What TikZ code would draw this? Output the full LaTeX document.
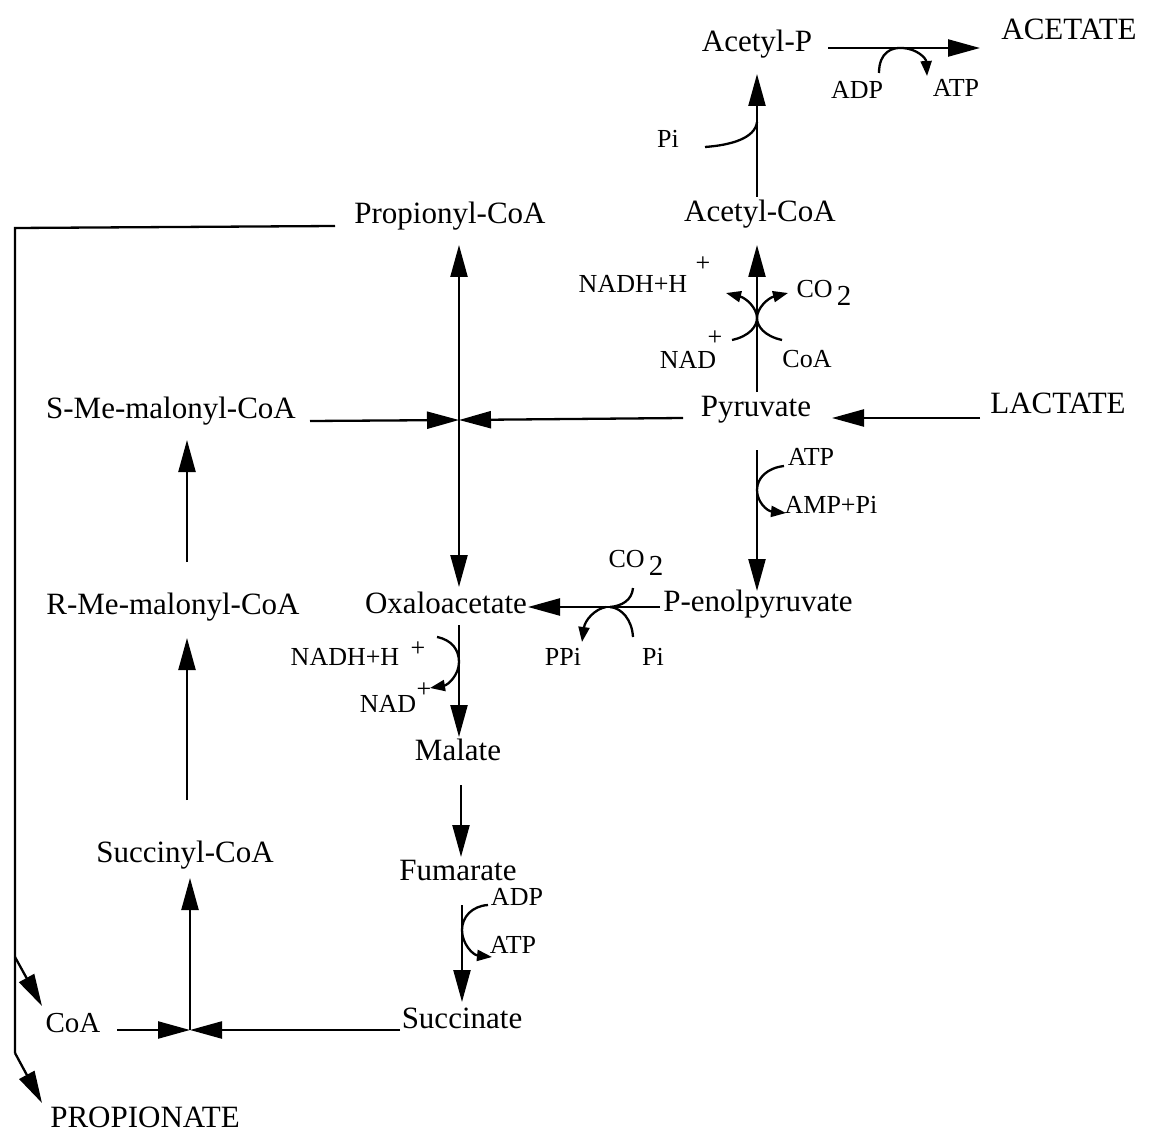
\documentclass[tikz,border=0pt]{standalone}
\usepackage{fontspec}
\setmainfont{Liberation Serif}
\usetikzlibrary{arrows.meta}
\tikzset{
  mainlbl/.style={anchor=base,inner sep=0pt,font=\fontsize{31}{36}\selectfont},
  smalllbl/.style={anchor=base,inner sep=0pt,font=\fontsize{26}{30}\selectfont},
  conn/.style={line width=2.3pt},
  bigarrow/.style={conn,-{Triangle[length=32pt,width=17pt]}},
  bigboth/.style={conn,{Triangle[length=32pt,width=17pt]}-{Triangle[length=32pt,width=17pt]}},
  smallarrow/.style={conn,-{Triangle[length=15pt,width=11pt]}},
}
\begin{document}
\begin{tikzpicture}[x=1pt,y=-1pt]
\useasboundingbox (0,0) rectangle (1149,1134);
\fill[white] (0,0) rectangle (1149,1134);
% main metabolites
\node[mainlbl] (acp) at (757,52) {Acetyl-P};
\node[mainlbl] (acetate) at (1069,40) {ACETATE};
\node[mainlbl] (accoa) at (760,222) {Acetyl-CoA};
\node[mainlbl] (propcoa) at (450,224) {Propionyl-CoA};
\node[mainlbl] (smm) at (171,418) {S-Me-malonyl-CoA};
\node[mainlbl] (pyr) at (756,416) {Pyruvate};
\node[mainlbl] (lact) at (1058,413) {LACTATE};
\node[mainlbl] (rmm) at (173,614) {R-Me-malonyl-CoA};
\node[mainlbl] (oaa) at (446,613) {Oxaloacetate};
\node[mainlbl] (pep) at (758,611) {P-enolpyruvate};
\node[mainlbl] (mal) at (458,760) {Malate};
\node[mainlbl] (succoa) at (185,862) {Succinyl-CoA};
\node[mainlbl] (fum) at (458,880) {Fumarate};
\node[mainlbl] (suc) at (462,1028) {Succinate};
\node[smalllbl,font=\fontsize{29}{34}\selectfont] (coab) at (73,1032) {CoA};
\node[mainlbl] (propion) at (145,1127) {PROPIONATE};
% cofactors
\node[smalllbl] (adp1) at (857,99) {ADP};
\node[smalllbl] (atp1) at (956,97) {ATP};
\node[smalllbl] (pi1) at (668,148) {Pi};
\node[smalllbl] (nadh1) at (633,293) {NADH+H};
\node[smalllbl] (nadh1p) at (703,272) {+};
\node[smalllbl] (co2a) at (824,298) {CO\,\raisebox{-8pt}{\fontsize{29}{34}\selectfont 2}};
\node[smalllbl] (nad1) at (688,368) {NAD};
\node[smalllbl] (nad1p) at (715,345) {+};
\node[smalllbl] (coa1) at (807,367) {CoA};
\node[smalllbl] (atp2) at (811,465) {ATP};
\node[smalllbl] (amp) at (831,513) {AMP+Pi};
\node[smalllbl] (co2b) at (636,567) {CO\,\raisebox{-8pt}{\fontsize{29}{34}\selectfont 2}};
\node[smalllbl] (nadh2) at (345,665) {NADH+H};
\node[smalllbl] (nadh2p) at (418,656) {+};
\node[smalllbl] (ppi) at (563,665) {PPi};
\node[smalllbl] (pi2) at (653,665) {Pi};
\node[smalllbl] (nad2) at (388,712) {NAD};
\node[smalllbl] (nad2p) at (424,697) {+};
\node[smalllbl] (adp2) at (517,905) {ADP};
\node[smalllbl] (atp3) at (513,953) {ATP};
% junctions
\coordinate (jc) at (459,420);
\coordinate (jb) at (190,1030);
% Acetyl-P -> acetate
\draw[bigarrow] (828,48) -- (980,48);
\draw[smallarrow] (879,73) .. controls (879,52) and (892,47) .. (903,48) .. controls (917,49) and (926,58) .. (927,76);
% Acetyl-CoA -> Acetyl-P
\draw[bigarrow] (757,197) -- (757,74);
\draw[conn] (705,147) .. controls (732,145) and (755,138) .. (757,122);
% Pyruvate -> Acetyl-CoA
\draw[bigarrow] (757,392) -- (757,245);
\draw[smallarrow] (732,340) .. controls (750,336) and (757,326) .. (757,318) .. controls (757,308) and (746,298) .. (726,293);
\draw[smallarrow] (782,340) .. controls (764,336) and (757,326) .. (757,318) .. controls (757,308) and (768,298) .. (788,293);
% Lactate -> Pyruvate
\draw[bigarrow] (980,418) -- (832,418);
% Pyruvate -> central junction, S-Me-malonyl -> junction
\draw[bigarrow] (683,418) -- (jc);
\draw[bigarrow] (310,421) -- (jc);
\draw[bigboth] (459,245) -- (459,587);
% Pyruvate -> PEP
\draw[bigarrow] (757,450) -- (757,591);
\draw[smallarrow] (784,466) .. controls (767,468) and (757,478) .. (757,490) .. controls (757,502) and (767,511) .. (786,513);
% PEP -> OAA
\draw[bigarrow] (660,607) -- (528,607);
\draw[conn] (633,588) .. controls (632,600) and (622,606) .. (610,607);
\draw[conn] (633,637) .. controls (632,620) and (622,608) .. (610,607);
\draw[smallarrow] (606,607) .. controls (595,609) and (585,620) .. (582,642);
% OAA -> Malate
\draw[bigarrow] (459,625) -- (459,737);
\draw[smallarrow] (437,637) .. controls (452,640) and (459,650) .. (459,662) .. controls (459,675) and (448,685) .. (430,688);
% Malate -> Fumarate
\draw[bigarrow] (461,785) -- (461,857);
% Fumarate -> Succinate
\draw[bigarrow] (462,905) -- (462,1002);
\draw[smallarrow] (488,905) .. controls (472,906) and (462,917) .. (462,930) .. controls (462,944) and (473,955) .. (492,957);
% Succinate / CoA -> junction -> Succinyl-CoA
\draw[bigarrow] (400,1030) -- (jb);
\draw[bigarrow] (117,1030) -- (jb);
\draw[bigarrow] (jb) -- (190,878);
% Succinyl-CoA -> R -> S
\draw[bigarrow] (187,800) -- (187,638);
\draw[bigarrow] (187,562) -- (187,440);
% Propionyl-CoA -> CoA, Propionate
\draw[conn] (335,226) -- (15,228) -- (15,1053);
\draw[bigarrow] (15,957) -- (42,1006);
\draw[bigarrow] (15,1053) -- (42,1103);
\end{tikzpicture}
\end{document}
